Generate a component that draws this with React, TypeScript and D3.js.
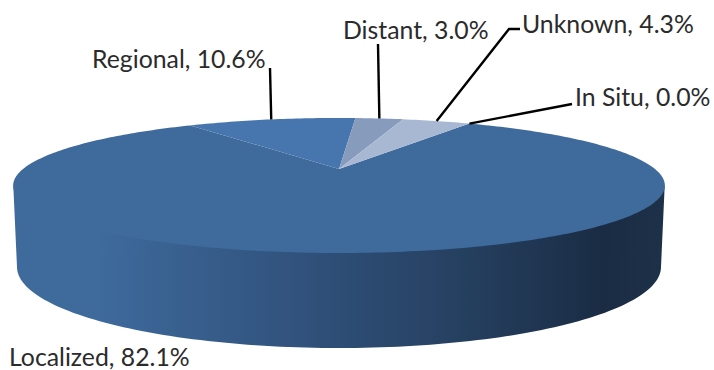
import React from "react";
import * as d3 from "d3";

const categories = ["In Situ", "Localized", "Regional", "Distant", "Unknown"];
const shares = [0.0, 82.1, 10.6, 3.0, 4.3];
const sliceColors = ["#3f6a9c", "#3f6a9c", "#4775ad", "#879bbd", "#a9b8d2"];

const W = 714, H = 370;
const apex = { x: 339, y: 169 };
const scaleX = 316, scaleY = 63.5, persp = 0.244;
const base = { cx: 339, cy: 267, rx: 322, ry: 81 };
const firstAngle = (30 * Math.PI) / 180;
const wallOverlap = 3;

// Tilted disc: maps a pie angle and a unit radius to the page through a perspective division
const project = (angle: number, r = 1): [number, number] => {
  const X = Math.sin(angle) * r, Y = -Math.cos(angle) * r;
  const w = 1 - persp * Y;
  return [apex.x + (scaleX * X) / w, apex.y + (scaleY * Y) / w];
};

const pieData = d3.pie<number>().sort(null).startAngle(firstAngle).endAngle(firstAngle + 2 * Math.PI)(shares);
const line = d3.line();

const sweep = (a0: number, a1: number): [number, number][] => {
  const n = Math.max(2, Math.ceil(Math.abs(a1 - a0) * 60));
  return d3.range(n + 1).map((i) => project(a0 + ((a1 - a0) * i) / n));
};

const slicePath = (a0: number, a1: number) =>
  line([[apex.x, apex.y], ...sweep(a0, a1)])! + "Z";

// Angles at which the disc is widest on the page
const rimRight = Math.PI - Math.acos(persp);
const rimFront = d3.range(0, 121).map((i): [number, number] => {
  const a = rimRight + ((2 * Math.PI - 2 * rimRight) * i) / 120;
  const [x, y] = project(a);
  return [x, y - wallOverlap];
});
const baseFront = d3.range(0, 121).map((i): [number, number] => {
  const t = (Math.PI * i) / 120;
  return [base.cx - base.rx * Math.cos(t), base.cy + base.ry * Math.sin(t)];
});
const wallPath = line([...rimFront, ...baseFront])! + "Z";

type Callout = { x: number; y: number; lx: number; ly: number; bend?: [number, number] };
const callouts: (Callout | null)[] = [
  { x: 575, y: 106, lx: 572, ly: 104 },
  null,
  { x: 92, y: 68, lx: 270, ly: 68 },
  { x: 343, y: 39, lx: 378, ly: 44 },
  { x: 522, y: 33, lx: 520, ly: 29, bend: [509, 29] },
];
const localizedLabel = { x: 9, y: 366 };

export default function App() {
  return (
    <svg
      width={W}
      height={H}
      viewBox={`0 0 ${W} ${H}`}
      style={{ position: "fixed", left: 0, top: 0, background: "#fff", display: "block" }}
      fontFamily="Lato, 'Open Sans', sans-serif"
    >
      <defs>
        <linearGradient id="wall" gradientUnits="userSpaceOnUse" x1={13} x2={667} y1={0} y2={0}>
          <stop offset="0" stopColor="#3e6a9c" />
          <stop offset="0.13" stopColor="#3e6a9c" />
          <stop offset="0.45" stopColor="#30517b" />
          <stop offset="0.72" stopColor="#243d5c" />
          <stop offset="0.9" stopColor="#1a2c44" />
          <stop offset="1" stopColor="#1d3149" />
        </linearGradient>
      </defs>
      <path d={wallPath} fill="url(#wall)" />
      {pieData.map((d, i) =>
        d.endAngle - d.startAngle > 0 ? (
          <path key={categories[i]} d={slicePath(d.startAngle, d.endAngle)} fill={sliceColors[i]} />
        ) : null
      )}
      {pieData.map((d, i) => {
        const c = callouts[i];
        if (!c) return null;
        const mid = (d.startAngle + d.endAngle) / 2;
        const pts: [number, number][] = [project(mid), ...(c.bend ? [c.bend] : []), [c.lx, c.ly]];
        return <path key={categories[i]} d={line(pts)!} fill="none" stroke="#000" strokeWidth={2.4} />;
      })}
      {pieData.map((d, i) => {
        const c = callouts[i] ?? localizedLabel;
        return (
          <text key={categories[i]} x={c.x} y={c.y} fontSize={24.8} fill="#2b2b2b">
            {`${categories[i]}, ${shares[i].toFixed(1)}%`}
          </text>
        );
      })}
    </svg>
  );
}
